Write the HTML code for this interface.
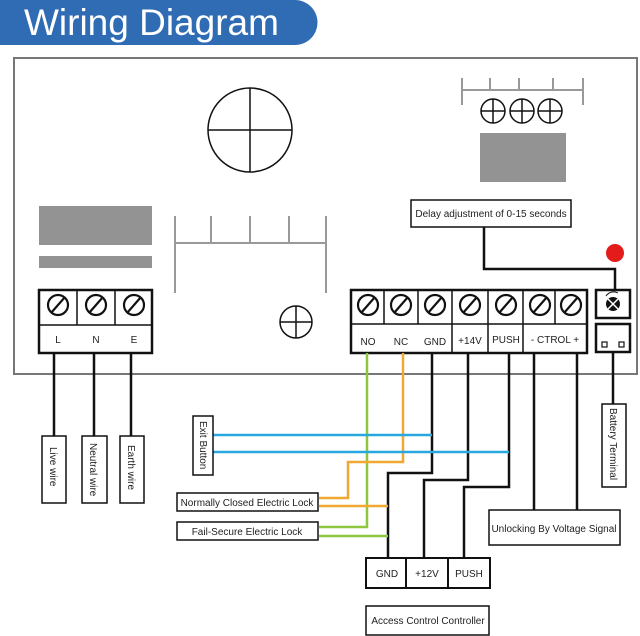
<!DOCTYPE html>
<html><head><meta charset="utf-8"><style>html,body{margin:0;padding:0;background:#fff}svg{display:block}</style></head><body>
<svg width="640" height="636" viewBox="0 0 640 636" xmlns="http://www.w3.org/2000/svg" font-family="Liberation Sans, sans-serif">
<path d="M0 0 H295 A22 22 0 0 1 295 45 H0 Z" fill="#2f6cb3"/>
<text x="24" y="35" font-size="37" fill="#fff">Wiring Diagram</text>
<rect x="14" y="58" width="623" height="316" fill="#fff" stroke="#777" stroke-width="2"/>
<g stroke="#111" stroke-width="1.5" fill="none">
<circle cx="250" cy="130" r="42"/><line x1="208" y1="130" x2="292" y2="130"/><line x1="250" y1="88" x2="250" y2="172"/>
<circle cx="296" cy="322" r="16"/><line x1="280" y1="322" x2="312" y2="322"/><line x1="296" y1="306" x2="296" y2="338"/>
<circle cx="493" cy="111" r="12"/><line x1="481" y1="111" x2="505" y2="111"/><line x1="493" y1="99" x2="493" y2="123"/>
<circle cx="522" cy="111" r="12"/><line x1="510" y1="111" x2="534" y2="111"/><line x1="522" y1="99" x2="522" y2="123"/>
<circle cx="550" cy="111" r="12"/><line x1="538" y1="111" x2="562" y2="111"/><line x1="550" y1="99" x2="550" y2="123"/>
</g>
<g fill="#939393"><rect x="39" y="206" width="113" height="39"/><rect x="39" y="256" width="113" height="12"/><rect x="480" y="133" width="86" height="49"/></g>
<g stroke="#999" stroke-width="2" fill="none">
<path d="M175 216V293M175 243H326M211 216V243M250 216V243M289 216V243M326 216V293"/>
<path d="M462 78V105M462 90H583M490 78V90M519 78V90M553 78V90M583 78V105"/>
</g>
<circle cx="615" cy="253" r="9" fill="#e31b1b"/>
<g font-size="10" fill="#222">
<rect x="411" y="200" width="160" height="27" fill="#fff" stroke="#111" stroke-width="1.5"/>
<text x="491" y="217" text-anchor="middle">Delay adjustment of 0-15 seconds</text>
</g>
<g stroke="#111" stroke-width="2.5" fill="none">
<path d="M484 227V269H615V290"/>
<rect x="596" y="290" width="34" height="28" fill="#fff"/>
<rect x="596" y="324" width="34" height="28" fill="#fff"/>
<path d="M613 352V404"/>
<path d="M54 353V436M94 353V436M131 353V436"/>
<path d="M432 353V473H388V558M468 353V480H424V558M509 353V487H464V558M534 353V510M577 353V510"/>
</g>
<circle cx="613" cy="304" r="7" fill="#111"/>
<path d="M608 299L618 309M618 299L608 309" stroke="#fff" stroke-width="1.5"/>
<path d="M606 296 A9 9 0 0 1 618 293" stroke="#111" fill="none" stroke-width="1"/>
<rect x="602" y="342" width="5" height="5" fill="none" stroke="#111" stroke-width="1.2"/>
<rect x="619" y="342" width="5" height="5" fill="none" stroke="#111" stroke-width="1.2"/>
<!-- LNE terminal -->
<g stroke="#111" fill="#fff">
<rect x="39" y="290" width="113" height="63" stroke-width="2.5"/>
<path d="M39 325H152M77 290V325M115 290V325" stroke-width="1.5"/>
<rect x="351" y="290" width="236" height="63" stroke-width="2.5"/>
<path d="M351 324H587M384 290V324M418 290V324M452 290V353M488 290V353M523 290V353M555 290V324" stroke-width="1.5"/>
</g>
<g stroke="#111" stroke-width="2.2" fill="none">
<g id="s"><circle cx="58" cy="305" r="10"/><line x1="51" y1="313" x2="65" y2="297"/></g>
<use href="#s" x="38"/><use href="#s" x="76"/>
<use href="#s" x="310"/><use href="#s" x="343"/><use href="#s" x="377"/><use href="#s" x="412"/><use href="#s" x="448"/><use href="#s" x="482"/><use href="#s" x="513"/>
</g>
<g font-size="10" fill="#222" text-anchor="middle">
<text x="58" y="343">L</text><text x="96" y="343">N</text><text x="134" y="343">E</text>
<text x="368" y="345">NO</text><text x="401" y="345">NC</text><text x="435" y="345">GND</text>
<text x="470" y="344">+14V</text><text x="506" y="343">PUSH</text><text x="555" y="343">- CTROL +</text>
</g>
<!-- colored wires -->
<g fill="none" stroke-width="2.5">
<path d="M367 353V527H319M319 536H388" stroke="#8dc63f"/>
<path d="M403 353V462H348V498H319M319 506H388" stroke="#f0a830"/>
<path d="M213 435H432M213 452H509" stroke="#29a8e0"/>
</g>
<g stroke="#111" stroke-width="1.5" fill="#fff">
<rect x="42" y="436" width="24" height="67"/><rect x="82" y="436" width="25" height="67"/><rect x="120" y="436" width="24" height="67"/>
<rect x="602" y="404" width="24" height="83"/>
<rect x="193" y="416" width="20" height="59"/>
<rect x="177" y="493" width="141" height="18"/>
<rect x="177" y="522" width="141" height="18"/>
<rect x="489" y="510" width="131" height="35"/>
<rect x="366" y="558" width="124" height="30" stroke-width="2"/>
<path d="M406 558V588M448 558V588" stroke-width="2"/>
<rect x="366" y="606" width="123" height="29"/>
</g>
<g font-size="10" fill="#222">
<text transform="translate(50,447) rotate(90)">Live wire</text>
<text transform="translate(90,443) rotate(90)">Neutral wire</text>
<text transform="translate(128,445) rotate(90)">Earth wire</text>
<text transform="translate(610,408) rotate(90)">Battery Terminal</text>
<text transform="translate(200,421) rotate(90)">Exit Button</text>
<text x="247" y="506" text-anchor="middle">Normally Closed Electric Lock</text>
<text x="247" y="535" text-anchor="middle">Fail-Secure Electric Lock</text>
<text x="554" y="532" text-anchor="middle">Unlocking By Voltage Signal</text>
<text x="387" y="577" text-anchor="middle">GND</text>
<text x="427" y="577" text-anchor="middle">+12V</text>
<text x="469" y="577" text-anchor="middle">PUSH</text>
<text x="428" y="624" text-anchor="middle">Access Control Controller</text>
</g>
</svg>
</body></html>
